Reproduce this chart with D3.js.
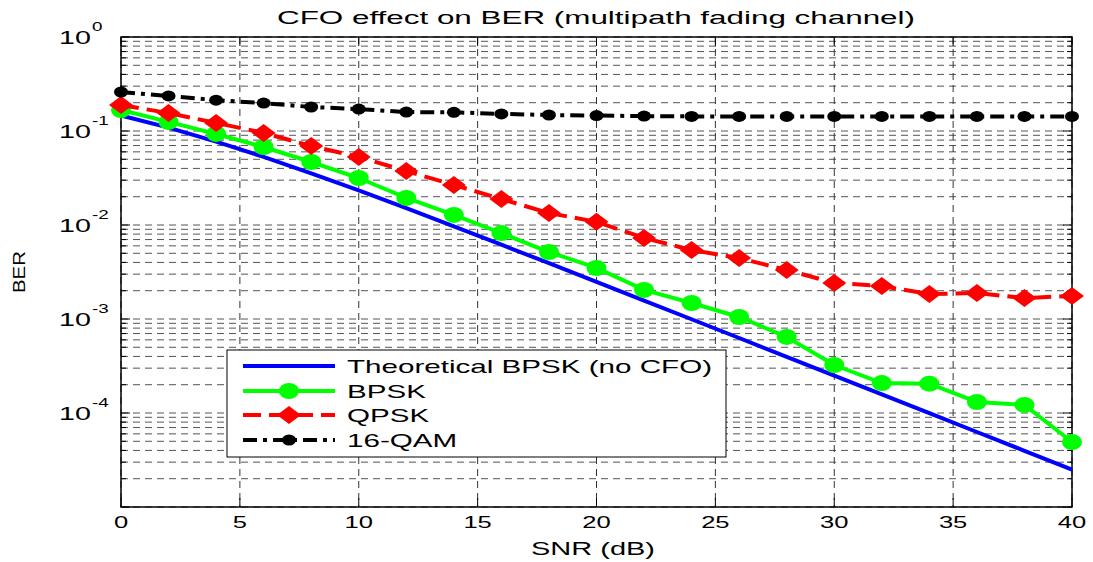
<!DOCTYPE html>
<html>
<head>
<meta charset="utf-8">
<title>CFO effect on BER</title>
<script src="https://d3js.org/d3.v7.min.js"></script>
<style>
  body { margin: 0; background: #fff; }
  text { font-family: "Liberation Sans", Arial, sans-serif; fill: #000; }
</style>
</head>
<body>
<div id="container"></div>
<script>
// ---- data ----
var snr = [0,2,4,6,8,10,12,14,16,18,20,22,24,26,28,30,32,34,36,38,40];
var theory = [0.1464,0.1085,0.0771,0.0530,0.0355,0.0233,0.0151,0.00967,0.00617,0.00392,0.00248,
              0.00157,0.000994,0.000628,0.000396,0.00025,0.000158,0.0000996,0.0000628,0.0000396,0.000025];
var bpsk = [0.167,0.125,0.093,0.0676,0.0468,0.0316,0.0194,0.0128,0.0082,0.00516,0.00349,
            0.00204,0.00148,0.00105,0.000644,0.000324,0.000208,0.000205,0.000131,0.000122,0.0000491];
var qpsk = [0.189,0.155,0.122,0.0953,0.0692,0.0529,0.0375,0.0267,0.0189,0.0134,0.0108,
            0.00728,0.00542,0.00445,0.00332,0.00242,0.00224,0.00184,0.00189,0.00167,0.00176];
var qam16 = [0.26,0.236,0.213,0.198,0.18,0.171,0.159,0.158,0.152,0.148,0.146,
             0.144,0.143,0.143,0.143,0.143,0.143,0.143,0.143,0.143,0.143];
var xTicks = [0,5,10,15,20,25,30,35,40];
var yTicks = [1,0.1,0.01,0.001,0.0001];
var yTickExp = ["0","-1","-2","-3","-4"];
var legendLabels = ["Theoretical BPSK (no CFO)","BPSK","QPSK","16-QAM"];

// ---- layout ----
const width = 1093, height = 562;
const margin = {top: 37, bottom: 55, left: 121, right: 21};
const SX = 1.55; // the original figure text is stretched horizontally

var svg = d3.select("#container").append("svg")
    .attr("width", width).attr("height", height);

var x = d3.scaleLinear().domain([0, 40]).range([margin.left, width - margin.right]);
var y = d3.scaleLog().domain([1e-5, 1]).range([height - margin.bottom, margin.top]);

function sText(px, py, str, size, anchor, sx) {
  return svg.append("text")
    .attr("transform", `translate(${px},${py}) scale(${sx || SX},1)`)
    .attr("font-size", size)
    .attr("text-anchor", anchor || "start")
    .text(str);
}

// ---- grid ----
var minor = [];
for (var e = -5; e < 0; e++) for (var m = 1; m < 10; m++) minor.push(m * Math.pow(10, e));
minor.push(1);

var grid = svg.append("g");
grid.selectAll("line.h").data(minor).enter().append("line")
    .attr("x1", margin.left).attr("x2", width - margin.right)
    .attr("y1", d => y(d)).attr("y2", d => y(d))
    .attr("stroke", "#555").attr("stroke-width", 1).attr("stroke-dasharray", "7,5");
grid.selectAll("line.v").data(xTicks).enter().append("line")
    .attr("x1", d => x(d)).attr("x2", d => x(d))
    .attr("y1", margin.top).attr("y2", height - margin.bottom)
    .attr("stroke", "#333").attr("stroke-width", 1).attr("stroke-dasharray", "7,5");

// ---- axes box + inward ticks ----
var axes = svg.append("g");
axes.append("rect")
    .attr("x", margin.left).attr("y", margin.top)
    .attr("width", width - margin.left - margin.right)
    .attr("height", height - margin.top - margin.bottom)
    .attr("fill", "none").attr("stroke", "#000").attr("stroke-width", 1.5);
minor.forEach(function(d) {
  var len = yTicks.indexOf(d) >= 0 || d === 1e-5 ? 9 : 5;
  axes.append("line").attr("x1", margin.left).attr("x2", margin.left + len)
      .attr("y1", y(d)).attr("y2", y(d)).attr("stroke", "#000");
  axes.append("line").attr("x1", width - margin.right).attr("x2", width - margin.right - len)
      .attr("y1", y(d)).attr("y2", y(d)).attr("stroke", "#000");
});
xTicks.forEach(function(d) {
  axes.append("line").attr("x1", x(d)).attr("x2", x(d))
      .attr("y1", height - margin.bottom).attr("y2", height - margin.bottom - 9).attr("stroke", "#000");
  axes.append("line").attr("x1", x(d)).attr("x2", x(d))
      .attr("y1", margin.top).attr("y2", margin.top + 9).attr("stroke", "#000");
  sText(x(d), 528, d, 16.5, "middle");
});
yTicks.forEach(function(d, i) {
  sText(91, y(d) + 7, "10", 18.5, "end");
  sText(92, y(d) - 6, yTickExp[i], 13, "start", 1.45);
});

// ---- labels ----
svg.append("text").attr("x", 596).attr("y", 24).attr("font-size", 18)
   .attr("text-anchor", "middle")
   .attr("textLength", 638).attr("lengthAdjust", "spacingAndGlyphs")
   .text("CFO effect on BER (multipath fading channel)");
svg.append("text").attr("x", 593).attr("y", 555).attr("font-size", 18)
   .attr("text-anchor", "middle")
   .attr("textLength", 124).attr("lengthAdjust", "spacingAndGlyphs")
   .text("SNR (dB)");
svg.append("text").attr("transform", "translate(25,272) rotate(-90)")
   .attr("font-size", 17).attr("text-anchor", "middle")
   .attr("textLength", 42).attr("lengthAdjust", "spacingAndGlyphs")
   .text("BER");

// ---- series ----
var series = [
  {vals: theory, color: "#0000ff", dash: null, marker: "none"},
  {vals: bpsk, color: "#00ff00", dash: null, marker: "circle"},
  {vals: qpsk, color: "#ff0000", dash: "18,8", marker: "diamond"},
  {vals: qam16, color: "#000000", dash: "14,6,4,6", marker: "dot"}
];

function drawMarker(g, s, cx, cy) {
  if (s.marker === "circle") {
    g.append("ellipse").attr("cx", cx).attr("cy", cy).attr("rx", 10).attr("ry", 8)
     .attr("fill", s.color);
  } else if (s.marker === "diamond") {
    g.append("path")
     .attr("d", `M${cx - 12},${cy} L${cx},${cy - 9} L${cx + 12},${cy} L${cx},${cy + 9} Z`)
     .attr("fill", s.color);
  } else if (s.marker === "dot") {
    g.append("ellipse").attr("cx", cx).attr("cy", cy).attr("rx", 7).attr("ry", 5.5)
     .attr("fill", s.color);
  }
}

var line = d3.line().x((d, i) => x(snr[i])).y(d => y(d));
var plot = svg.append("g");
series.forEach(function(s) {
  plot.append("path").datum(s.vals)
      .attr("d", line).attr("fill", "none")
      .attr("stroke", s.color).attr("stroke-width", 4)
      .attr("stroke-dasharray", s.dash);
  s.vals.forEach(function(v, i) { drawMarker(plot, s, x(snr[i]), y(v)); });
});

// ---- legend ----
var lg = svg.append("g");
lg.append("rect").attr("x", 227).attr("y", 350).attr("width", 499).attr("height", 107)
  .attr("fill", "#fff").attr("stroke", "#000").attr("stroke-width", 1);
var rowY = [366, 391, 415, 440];
series.forEach(function(s, i) {
  lg.append("line").attr("x1", 243).attr("x2", 335)
    .attr("y1", rowY[i]).attr("y2", rowY[i])
    .attr("stroke", s.color).attr("stroke-width", 4)
    .attr("stroke-dasharray", s.dash);
  drawMarker(lg, s, 289, rowY[i]);
  var t = sText(347, rowY[i] + 7, legendLabels[i], 18.5, "start", 1.6);
});
</script>
</body>
</html>
